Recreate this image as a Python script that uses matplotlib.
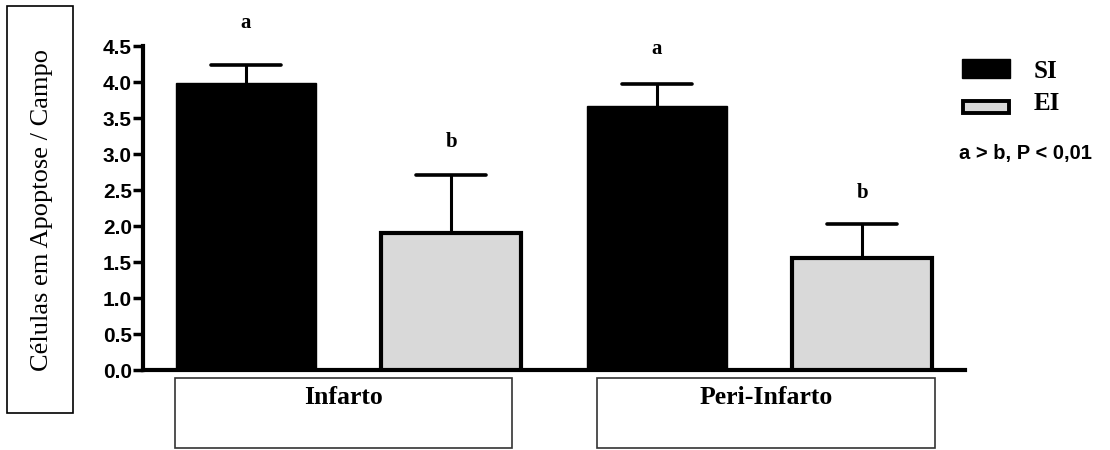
import numpy as np
import matplotlib.pyplot as plt
from matplotlib.patches import Rectangle

# Células em apoptose por campo (média + EPM)
grupos = ['Infarto', 'Peri-Infarto']
si_media = [3.98, 3.66]
si_epm = [0.26, 0.31]
ei_media = [1.90, 1.56]
ei_epm = [0.81, 0.47]
letras_si = ['a', 'a']
letras_ei = ['b', 'b']
yticks = [0.0, 0.5, 1.0, 1.5, 2.0, 2.5, 3.0, 3.5, 4.0, 4.5]

W, H = 1110, 450
fig = plt.figure(figsize=(W / 100, H / 100), dpi=100)

def fx(px):
    return px / W

def fy(py):
    return 1 - py / H

ax = fig.add_axes([fx(143), fy(370), fx(965) - fx(143), fy(46) - fy(370)])

cinza = '#d9d9d9'
pos_si = np.array([0, 2])
pos_ei = np.array([1, 3])
largura = 0.68
cap = 0.17

ax.bar(pos_si, si_media, width=largura, color='black', edgecolor='black',
       linewidth=1, zorder=3)
ax.bar(pos_ei, ei_media, width=largura, color=cinza, edgecolor='black',
       linewidth=3, zorder=3)

# barras de erro só para cima
for pos, media, epm in [(pos_si, si_media, si_epm), (pos_ei, ei_media, ei_epm)]:
    topo = np.array(media) + np.array(epm)
    ax.vlines(pos, media, topo, color='black', linewidth=2.2, zorder=2)
    ax.hlines(topo, pos - cap, pos + cap, color='black', linewidth=2.6,
              zorder=2, capstyle='round')

# letras de significância acima das barras de erro
gap_si = [0.58, 0.49]
gap_ei = [0.45, 0.43]
for i in range(2):
    ax.text(pos_si[i], si_media[i] + si_epm[i] + gap_si[i], letras_si[i],
            ha='center', va='center', family='Liberation Serif',
            fontweight='bold', fontsize=15, clip_on=False)
    ax.text(pos_ei[i], ei_media[i] + ei_epm[i] + gap_ei[i], letras_ei[i],
            ha='center', va='center', family='Liberation Serif',
            fontweight='bold', fontsize=15, clip_on=False)

ax.set_xlim(-0.5, 3.5)
ax.set_ylim(0, 4.5)
ax.set_yticks(yticks)
ax.set_yticklabels(['%.1f' % v for v in yticks], family='Liberation Sans',
                   fontweight='bold', fontsize=15)
ax.set_xticks([])
ax.tick_params(axis='y', direction='out', length=7, width=2.5, pad=1)
for s in ['top', 'right']:
    ax.spines[s].set_visible(False)
ax.spines['left'].set_linewidth(3)
ax.spines['bottom'].set_linewidth(3)

# caixa do título do eixo y
fig.add_artist(Rectangle((fx(7), fy(413)), fx(73) - fx(7), fy(6) - fy(413),
                         transform=fig.transFigure, fill=False,
                         edgecolor='black', linewidth=1.2))
fig.text(fx(42), fy(210), 'Células em Apoptose / Campo', rotation=90,
         ha='center', va='center', family='Liberation Serif', fontsize=19)

# caixas dos grupos
caixas = [(175, 512), (597, 935)]
for nome, (x0, x1) in zip(grupos, caixas):
    fig.add_artist(Rectangle((fx(x0), fy(448)), fx(x1) - fx(x0), fy(378) - fy(448),
                             transform=fig.transFigure, fill=False,
                             edgecolor='#333333', linewidth=1.2))
    fig.text(fx((x0 + x1) / 2), fy(398), nome, ha='center', va='center',
             family='Liberation Serif', fontweight='bold', fontsize=18.5)

# legenda
fig.add_artist(Rectangle((fx(962), fy(78)), fx(48), fy(59) - fy(78),
                         transform=fig.transFigure, facecolor='black',
                         edgecolor='black', linewidth=1))
fig.add_artist(Rectangle((fx(963), fy(113)), fx(46), fy(101) - fy(113),
                         transform=fig.transFigure, facecolor=cinza,
                         edgecolor='black', linewidth=2.8))
fig.text(fx(1034), fy(71), 'SI', ha='left', va='center',
         family='Liberation Serif', fontweight='bold', fontsize=18)
fig.text(fx(1034), fy(104), 'EI', ha='left', va='center',
         family='Liberation Serif', fontweight='bold', fontsize=18)
fig.text(fx(959), fy(153), 'a > b, P < 0,01', ha='left', va='center',
         family='Liberation Sans', fontweight='bold', fontsize=14.5)

fig.savefig('out.png', dpi=100)
